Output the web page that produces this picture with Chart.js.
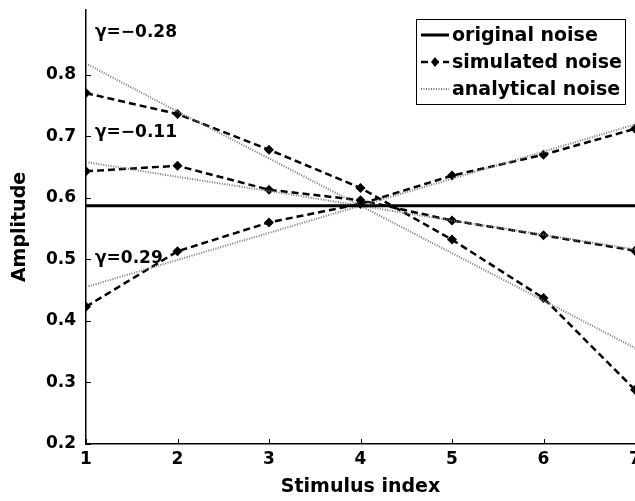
<!DOCTYPE html>
<html>
<head>
  <title>Amplitude vs stimulus index</title>
  <script src="https://cdn.jsdelivr.net/npm/chart.js"></script>
  <style>
    html, body { margin: 0; padding: 0; background: #fff; overflow: hidden; }
    #wrap { width: 635px; height: 501px; overflow: hidden; }
  </style>
</head>
<body>
  <div id="wrap"><canvas id="noiseChart" width="660" height="501"></canvas></div>

  <script>
    // data
    const stimulusIndex = [1, 2, 3, 4, 5, 6, 7];
    const originalNoise = [0.587, 0.587, 0.587, 0.587, 0.587, 0.587, 0.587];

    const simulatedNeg028 = [0.770, 0.736, 0.678, 0.616, 0.532, 0.437, 0.288];
    const simulatedNeg011 = [0.643, 0.652, 0.613, 0.596, 0.563, 0.539, 0.514];
    const simulatedPos029 = [0.423, 0.513, 0.560, 0.590, 0.636, 0.670, 0.712];

    const analyticalNeg028 = [0.818, 0.740, 0.664, 0.587, 0.510, 0.433, 0.356];
    const analyticalNeg011 = [0.658, 0.634, 0.611, 0.587, 0.563, 0.540, 0.516];
    const analyticalPos029 = [0.455, 0.499, 0.543, 0.587, 0.631, 0.675, 0.719];

    const gammaLabels = ["γ=−0.28", "γ=−0.11", "γ=0.29"];
    const gammaLabelY = [0.868, 0.706, 0.502];

    const yTickValues = [0.2, 0.3, 0.4, 0.5, 0.6, 0.7, 0.8];
    const legendLabels = ["original noise", "simulated noise", "analytical noise"];

    const FONT = "'DejaVu Sans', sans-serif";
    const pts = (ys) => ys.map((y, i) => ({ x: stimulusIndex[i], y: y }));

    const simStyle = {
      borderColor: "#000", backgroundColor: "#000", borderWidth: 2.5,
      borderDash: [7, 4], pointStyle: "rectRot", pointRadius: 5,
      pointBorderWidth: 0, tension: 0
    };
    const anaStyle = {
      borderColor: "#777", borderWidth: 2, borderDash: [1, 1.5],
      pointRadius: 0, tension: 0
    };

    const datasets = [
      { label: legendLabels[0], data: pts(originalNoise), borderColor: "#000",
        borderWidth: 3, pointRadius: 0 },
      Object.assign({ label: legendLabels[2], data: pts(analyticalNeg028) }, anaStyle),
      Object.assign({ label: legendLabels[2], data: pts(analyticalNeg011) }, anaStyle),
      Object.assign({ label: legendLabels[2], data: pts(analyticalPos029) }, anaStyle),
      Object.assign({ label: legendLabels[1], data: pts(simulatedNeg028) }, simStyle),
      Object.assign({ label: legendLabels[1], data: pts(simulatedNeg011) }, simStyle),
      Object.assign({ label: legendLabels[1], data: pts(simulatedPos029) }, simStyle)
    ];

    // matlab style ticks pointing into the plot
    const inwardTicks = {
      id: "inwardTicks",
      afterDatasetsDraw(chart) {
        const { ctx, chartArea: a, scales: { x, y } } = chart;
        ctx.save();
        ctx.strokeStyle = "#000";
        ctx.lineWidth = 1;
        ctx.beginPath();
        x.ticks.forEach(t => {
          const px = Math.round(x.getPixelForValue(t.value)) + 0.5;
          ctx.moveTo(px, a.bottom); ctx.lineTo(px, a.bottom - 5);
        });
        y.ticks.forEach(t => {
          const py = Math.round(y.getPixelForValue(t.value)) + 0.5;
          ctx.moveTo(a.left, py); ctx.lineTo(a.left + 5, py);
        });
        ctx.stroke();
        ctx.restore();
      }
    };

    const gammaText = {
      id: "gammaText",
      afterDatasetsDraw(chart) {
        const { ctx, scales: { x, y } } = chart;
        ctx.save();
        ctx.font = "bold 17px " + FONT;
        ctx.fillStyle = "#000";
        ctx.textBaseline = "middle";
        gammaLabels.forEach((txt, i) => {
          ctx.fillText(txt, x.getPixelForValue(1) + 9, y.getPixelForValue(gammaLabelY[i]));
        });
        ctx.restore();
      }
    };

    const boxLegend = {
      id: "boxLegend",
      afterDraw(chart) {
        const ctx = chart.ctx;
        const bx = 416, by = 19, bw = 209, bh = 85, rowH = 27;
        ctx.save();
        ctx.fillStyle = "#fff";
        ctx.fillRect(bx, by, bw, bh);
        ctx.strokeStyle = "#000";
        ctx.lineWidth = 1;
        ctx.strokeRect(bx + 0.5, by + 0.5, bw, bh);
        const samples = [datasets[0], datasets[4], datasets[1]];
        ctx.font = "bold 19px " + FONT;
        ctx.textBaseline = "middle";
        samples.forEach((ds, i) => {
          const cy = by + 16 + i * rowH;
          ctx.strokeStyle = ds.borderColor;
          ctx.lineWidth = ds.borderWidth;
          ctx.setLineDash(ds.borderDash || []);
          ctx.beginPath();
          ctx.moveTo(bx + 5, cy); ctx.lineTo(bx + 33, cy);
          ctx.stroke();
          ctx.setLineDash([]);
          if (ds.pointRadius) {
            ctx.fillStyle = "#000";
            ctx.beginPath();
            ctx.moveTo(bx + 19, cy - 5); ctx.lineTo(bx + 23, cy);
            ctx.lineTo(bx + 19, cy + 5); ctx.lineTo(bx + 15, cy);
            ctx.closePath(); ctx.fill();
          }
          ctx.fillStyle = "#000";
          ctx.fillText(legendLabels[i], bx + 36, cy + 1);
        });
        ctx.restore();
      }
    };

    new Chart(document.getElementById("noiseChart"), {
      type: "line",
      data: { datasets: datasets },
      options: {
        responsive: false,
        animation: false,
        devicePixelRatio: 1,
        layout: { padding: { top: 10, right: 25, left: 0, bottom: 0 } },
        plugins: { legend: { display: false }, tooltip: { enabled: false } },
        scales: {
          x: {
            type: "linear", min: 1, max: 7,
            afterFit: s => { s.height = 57; },
            grid: { display: false, drawTicks: false },
            border: { display: true, color: "#000", width: 1.5 },
            ticks: { stepSize: 1, padding: 5, color: "#000", maxRotation: 0,
                     font: { family: FONT, size: 17, weight: "bold" } },
            title: { display: true, text: "Stimulus index", color: "#000",
                     padding: { top: 0, bottom: 3 },
                     font: { family: FONT, size: 19, weight: "bold" } }
          },
          y: {
            min: 0.2, max: 0.905,
            afterFit: s => { s.width = 86; s.paddingTop = 0; s.paddingBottom = 0; },
            afterBuildTicks: s => { s.ticks = yTickValues.map(v => ({ value: v })); },
            grid: { display: false, drawTicks: false },
            border: { display: true, color: "#000", width: 1.5 },
            ticks: { padding: 10, color: "#000",
                     callback: v => v.toFixed(1),
                     font: { family: FONT, size: 17, weight: "bold" } },
            title: { display: true, text: "Amplitude", color: "#000",
                     padding: { top: 9, bottom: 0 },
                     font: { family: FONT, size: 19, weight: "bold" } }
          }
        }
      },
      plugins: [inwardTicks, gammaText, boxLegend]
    });
  </script>
</body>
</html>
